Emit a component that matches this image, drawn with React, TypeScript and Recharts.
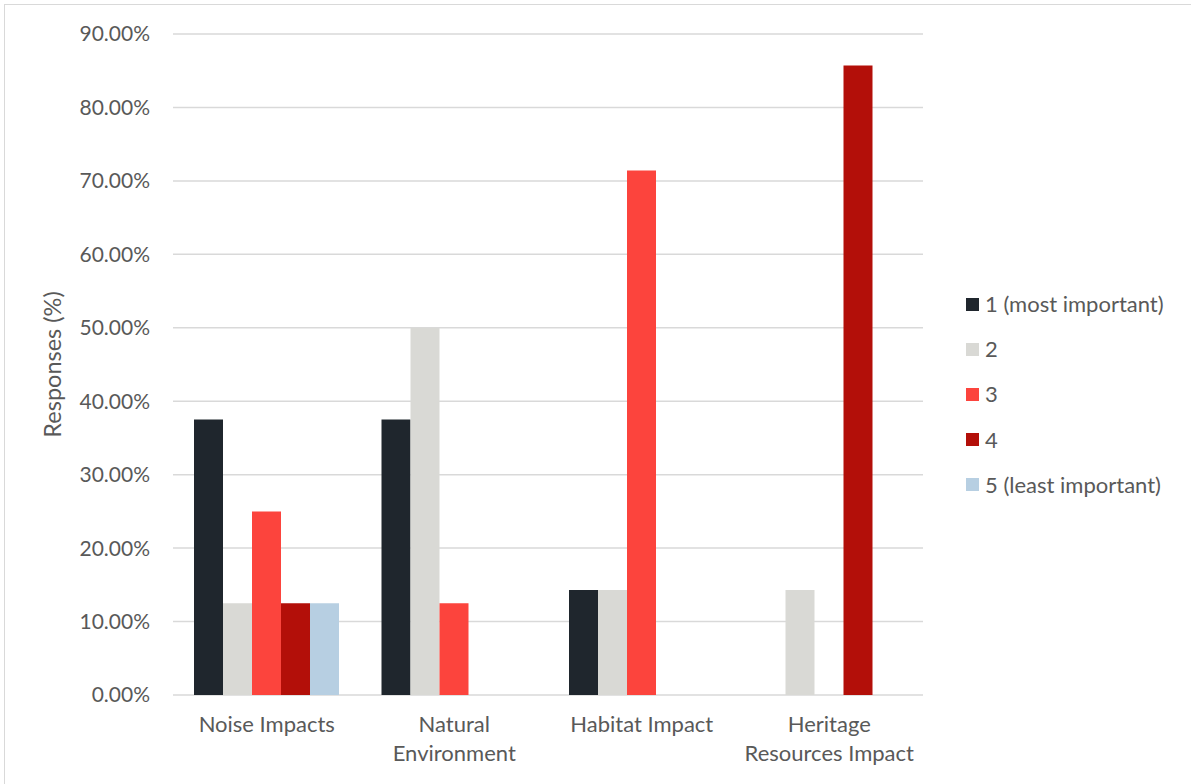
import { BarChart, Bar, XAxis, YAxis, CartesianGrid } from "recharts";

const categories = ["Noise Impacts", "Natural\nEnvironment", "Habitat Impact", "Heritage\nResources Impact"];
const rank1 = [37.5, 37.5, 14.29, 0];
const rank2 = [12.5, 50, 14.29, 14.29];
const rank3 = [25, 12.5, 71.43, 0];
const rank4 = [12.5, 0, 0, 85.71];
const rank5 = [12.5, 0, 0, 0];
const yTicks = [0, 10, 20, 30, 40, 50, 60, 70, 80, 90];

const series = [
  { key: "r1", name: "1 (most important)", color: "#1f262d", values: rank1 },
  { key: "r2", name: "2", color: "#d9d9d5", values: rank2 },
  { key: "r3", name: "3", color: "#fc443d", values: rank3 },
  { key: "r4", name: "4", color: "#b30f09", values: rank4 },
  { key: "r5", name: "5 (least important)", color: "#b7cfe2", values: rank5 },
];

const data = categories.map((cat, i) => {
  const row: Record<string, string | number> = { cat };
  series.forEach((s) => {
    row[s.key] = s.values[i];
  });
  return row;
});

const FONT = "Lato, 'Open Sans', sans-serif";
const TEXT = "#595959";

function CategoryTick(props: any) {
  const { x, y, payload } = props;
  const lines = String(payload.value).split("\n");
  return (
    <g transform={`translate(${x},${y})`}>
      {lines.map((line, i) => (
        <text
          key={i}
          x={0}
          y={29 + i * 29}
          textAnchor="middle"
          fill={TEXT}
          fontSize={22}
          fontFamily={FONT}
        >
          {line}
        </text>
      ))}
    </g>
  );
}

export default function App() {
  return (
    <div
      style={{
        position: "absolute",
        left: 0,
        top: 0,
        width: 1191,
        height: 784,
        background: "#fff",
        fontFamily: FONT,
      }}
    >
      <div
        style={{
          position: "absolute",
          left: 4,
          top: 4,
          right: 0,
          bottom: 0,
          borderLeft: "1px solid #d9d9d9",
          borderTop: "1px solid #d9d9d9",
        }}
      />
      <div style={{ position: "absolute", left: 0, top: 0 }}>
        <BarChart
          width={1191}
          height={784}
          data={data}
          margin={{ top: 34, right: 268, bottom: 0, left: 0 }}
          barGap={0}
          barCategoryGap={21}
        >
          <CartesianGrid vertical={false} stroke="#d9d9d9" strokeWidth={1.5} />
          <XAxis
            dataKey="cat"
            axisLine={false}
            tickLine={false}
            tick={<CategoryTick />}
            interval={0}
            height={89}
          />
          <YAxis
            width={173}
            domain={[0, 90]}
            ticks={yTicks}
            axisLine={false}
            tickLine={false}
            tickMargin={17}
            tickFormatter={(v: number) => `${v.toFixed(2)}%`}
            tick={{ fill: TEXT, fontSize: 21, fontFamily: FONT }}
            label={{
              value: "Responses (%)",
              angle: -90,
              position: "insideLeft",
              dx: 48,
              fill: TEXT,
              fontSize: 23.5,
              fontFamily: FONT,
              style: { textAnchor: "middle" },
            }}
          />
          {series.map((s) => (
            <Bar key={s.key} dataKey={s.key} name={s.name} fill={s.color} isAnimationActive={false} />
          ))}
        </BarChart>
      </div>
      <div style={{ position: "absolute", left: 966, top: 281.5 }}>
        {series.map((s) => (
          <div
            key={s.key}
            style={{ display: "flex", alignItems: "center", height: 45.2, color: TEXT, fontSize: 22 }}
          >
            <span
              style={{ width: 13, height: 13, background: s.color, marginRight: 6, display: "inline-block", flex: "none" }}
            />
            <span style={{ lineHeight: "26px", whiteSpace: "nowrap" }}>{s.name}</span>
          </div>
        ))}
      </div>
    </div>
  );
}
